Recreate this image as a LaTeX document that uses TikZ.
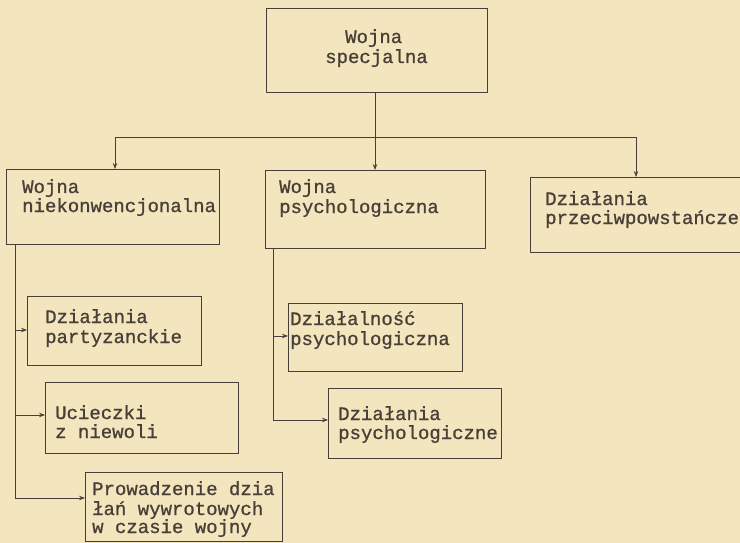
\documentclass[tikz,border=0pt]{standalone}
\usepackage{fontspec}
\newfontfamily\twfont[FakeBold=0.9]{Liberation Mono}
\usetikzlibrary{arrows.meta}
\definecolor{paper}{RGB}{243,230,190}
\definecolor{ink}{RGB}{72,64,56}
\tikzset{
  box/.style={draw=ink, line width=1.3pt, rectangle, inner sep=0pt, anchor=north west},
  txt/.style={anchor=base west, inner sep=0pt, text=ink, font=\twfont\fontsize{19}{21}\selectfont},
  conn/.style={draw=ink, line width=0.8pt},
  arr/.style={conn, -{Stealth[length=6pt,width=4.5pt]}}
}
\begin{document}
\begin{tikzpicture}[x=1pt,y=-1pt]
\fill[paper] (0,0) rectangle (740,543);
\useasboundingbox (0,0) rectangle (740,543);
% boxes
\node[box, minimum width=221pt, minimum height=84pt] (top) at (266,8) {};
\node[box, minimum width=213pt, minimum height=75pt] (b1) at (6,169) {};
\node[box, minimum width=220pt, minimum height=78pt] (b2) at (265,170) {};
\node[box, minimum width=240pt, minimum height=75pt] (b3) at (530,177) {};
\node[box, minimum width=174pt, minimum height=69pt] (b4) at (27,296) {};
\node[box, minimum width=193pt, minimum height=71pt] (b5) at (45,382) {};
\node[box, minimum width=197pt, minimum height=69pt] (b6) at (85,472) {};
\node[box, minimum width=174pt, minimum height=68pt] (b7) at (288,303) {};
\node[box, minimum width=173pt, minimum height=70pt] (b8) at (328,388) {};
% texts
\node[txt] (t0a) at (345,43) {Wojna};
\node[txt] (t0b) at (325,63) {specjalna};
\node[txt] (t1a) at (22,193) {Wojna};
\node[txt] (t1b) at (22,212) {niekonwencjonalna};
\node[txt] (t2a) at (279,193) {Wojna};
\node[txt] (t2b) at (279,213) {psychologiczna};
\node[txt] (t3a) at (545,205) {Działania};
\node[txt] (t3b) at (545,224) {przeciwpowstańcze};
\node[txt] (t4a) at (45,323) {Działania};
\node[txt] (t4b) at (45,343) {partyzanckie};
\node[txt] (t5a) at (55,419) {Ucieczki};
\node[txt] (t5b) at (55,438) {z niewoli};
\node[txt] (t6a) at (92,495) {Prowadzenie dzia};
\node[txt] (t6b) at (92,515) {łań wywrotowych};
\node[txt] (t6c) at (92,533) {w czasie wojny};
\node[txt] (t7a) at (290,325) {Działalność};
\node[txt] (t7b) at (290,345) {psychologiczna};
\node[txt] (t8a) at (338,420) {Działania};
\node[txt] (t8b) at (338,439) {psychologiczne};
% connectors from top
\coordinate (hl) at (115,137);
\coordinate (hm) at (375,137);
\coordinate (hr) at (636,137);
\draw[arr] (top.south -| hm) -- (b2.north -| hm);
\draw[conn] (hl) -- (hr);
\draw[arr] (hl) -- (b1.north -| hl);
\draw[arr] (hr) -- (b3.north -| hr);
% left spine
\coordinate (s0) at (15,244);
\coordinate (sa) at (15,330);
\coordinate (sb) at (15,415);
\draw[arr] (s0) |- (b6.west |- 0,498);
\draw[arr] (sa) -- (b4.west |- sa);
\draw[arr] (sb) -- (b5.west |- sb);
% middle spine
\coordinate (m0) at (273,248);
\coordinate (ma) at (273,336);
\draw[arr] (m0) |- (b8.west |- 0,420);
\draw[arr] (ma) -- (b7.west |- ma);
\end{tikzpicture}
\end{document}
